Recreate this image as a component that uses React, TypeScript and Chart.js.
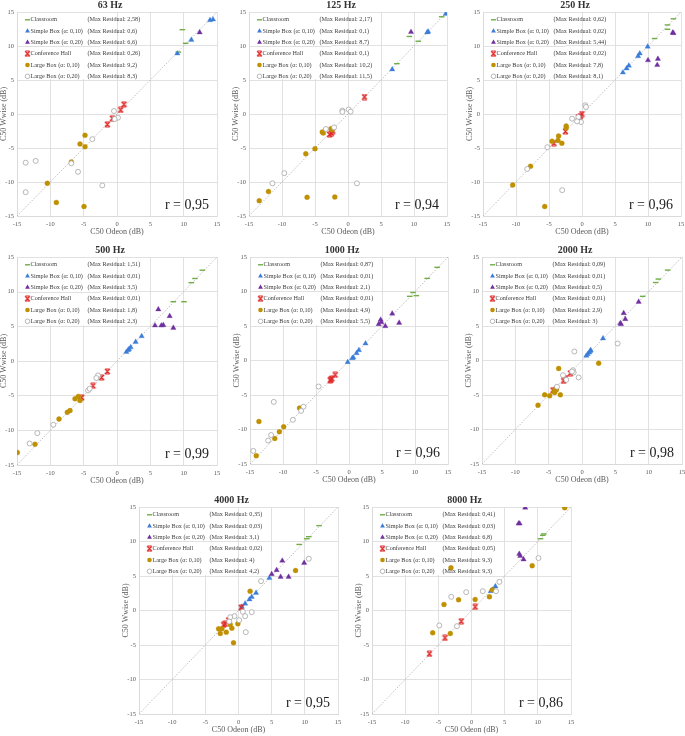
import React, { useEffect, useRef } from "react";
import { Chart, registerables } from "chart.js";

Chart.register(...registerables);

const FONT = "'Liberation Serif', 'Times New Roman', serif";

// ---------- DATA ----------
const frequencies = ["63 Hz", "125 Hz", "250 Hz", "500 Hz", "1000 Hz", "2000 Hz", "4000 Hz", "8000 Hz"];
const rValues = ["0,95", "0,94", "0,96", "0,99", "0,96", "0,98", "0,95", "0,86"];
const seriesNames = [
  "Classroom",
  "Simple Box (\u03b1: 0,10)",
  "Simple Box (\u03b1: 0,20)",
  "Conference Hall",
  "Large Box (\u03b1: 0,10)",
  "Large Box (\u03b1: 0,20)",
];
const axisMin = -15;
const axisMax = 15;
const tickStep = 5;

// Max residual labels per band (series order as seriesNames)
const maxResidual63 = ["2,58", "0,6", "6,6", "0,26", "9,2", "8,3"];
const maxResidual125 = ["2,17", "0,1", "8,7", "0,1", "10,2", "11,5"];
const maxResidual250 = ["0,62", "0,02", "5,44", "0,02", "7,8", "8,1"];
const maxResidual500 = ["1,51", "0,01", "3,5", "0,01", "1,8", "2,3"];
const maxResidual1000 = ["0,87", "0,01", "2,1", "0,01", "4,9", "5,5"];
const maxResidual2000 = ["0,09", "0,01", "0,5", "0,01", "2,9", "3"];
const maxResidual4000 = ["0,35", "0,03", "3,1", "0,02", "4", "4,2"];
const maxResidual8000 = ["0,41", "0,03", "6,8", "0,05", "9,3", "9,3"];

// [C50 Odeon, C50 Wwise]
const classroom63 = [[9.8, 12.4], [10.3, 10.4], [9.2, 9.1]];
const simpleBox10_63 = [[9.05, 8.9], [11.15, 10.9], [13.95, 13.8], [14.4, 13.9]];
const simpleBox20_63 = [[12.4, 12.0]];
const conference63 = [[1.05, 1.42], [0.55, 0.6], [-0.7, -0.64], [-1.45, -1.52]];
const largeBox10_63 = [[-4.8, -3.14], [-5.55, -4.4], [-4.8, -4.8], [-6.85, -7.06], [-10.45, -10.2], [-9.1, -13.0], [-4.95, -13.6]];
const largeBox20_63 = [[-0.45, 0.44], [0.15, -0.54], [-0.35, -0.74], [-3.7, -3.7], [-5.85, -8.5], [-6.85, -7.25], [-13.7, -7.16], [-12.2, -6.9], [-13.7, -11.5], [-2.2, -10.5]];

const classroom125 = [[14.2, 14.3], [9.3, 11.4], [10.65, 10.7], [7.4, 7.4]];
const simpleBox10_125 = [[14.8, 14.7], [12.15, 12.1], [12.0, 12.0], [6.7, 6.55]];
const simpleBox20_125 = [[9.55, 12.05]];
const conference125 = [[2.5, 2.5], [-2.8, -3.0], [-2.3, -2.5], [-2.5, -2.8]];
const largeBox10_125 = [[-2.6, -2.17], [-3.9, -2.66], [-3.75, -2.8], [-6.4, -5.86], [-5.0, -5.1], [-12.05, -11.4], [-13.45, -12.75], [-6.2, -12.25], [-2.0, -12.2], [-2.4, -2.3]];
const largeBox20_125 = [[-0.85, 0.5], [0.1, 0.65], [0.4, 0.35], [-3.35, -2.2], [-2.1, -1.97], [-9.65, -8.7], [-11.45, -10.2], [1.35, -10.2], [-0.85, 0.3]];

const classroom250 = [[13.85, 14.0], [12.95, 13.1], [12.95, 12.46], [11.0, 11.1]];
const simpleBox10_250 = [[9.95, 9.9], [8.75, 8.9], [8.5, 8.5], [7.1, 7.1], [6.75, 6.7], [6.2, 6.1]];
const simpleBox20_250 = [[13.75, 11.97], [13.85, 11.9], [10.0, 7.9], [11.5, 8.1], [11.4, 7.2]];
const conference250 = [[0, 0], [-0.25, -0.3], [-0.55, -0.45], [-2.5, -2.55], [-4.25, -4.3]];
const largeBox10_250 = [[-2.4, -1.77], [-2.4, -2.07], [-3.55, -3.25], [-3.65, -3.9], [-3.05, -4.3], [-4.55, -4.0], [-7.8, -7.7], [-10.5, -10.45], [-5.65, -13.6]];
const largeBox20_250 = [[0.5, 1.28], [0.6, 1.03], [-0.55, -0.45], [-0.15, -1.18], [-0.75, -1.08], [-1.5, -0.69], [-5.25, -4.88], [-8.3, -8.08], [-3.0, -11.2]];

const classroom500 = [[12.8, 13.1], [11.7, 11.9], [11.15, 11.3], [8.45, 8.55], [10.05, 8.55]];
const simpleBox10_500 = [[3.7, 3.57], [2.8, 2.75], [2.05, 1.98], [1.8, 1.7], [1.4, 1.3], [1.65, 1.55]];
const simpleBox20_500 = [[6.2, 7.44], [7.9, 6.47], [5.7, 5.12], [6.65, 5.12], [6.95, 5.17], [8.45, 4.78]];
const conference500 = [[-1.45, -1.5], [-2.3, -2.37], [-3.6, -3.57], [-5.3, -5.27]];
const largeBox10_500 = [[-5.8, -5.12], [-6.3, -5.46], [-5.55, -5.7], [-7.05, -7.15], [-7.45, -7.4], [-8.7, -8.36], [-12.3, -12.0], [-14.95, -13.2]];
const largeBox20_500 = [[-2.85, -2.08], [-3.1, -2.46], [-4.35, -4.25], [-4.1, -4.0], [-9.55, -9.2], [-11.95, -10.4], [-13.1, -11.9]];

const classroom1000 = [[13.35, 13.5], [11.85, 11.9], [9.7, 9.85], [9.2, 9.3], [10.2, 9.4]];
const simpleBox10_1000 = [[2.5, 2.46], [1.5, 1.5], [1.15, 1.06], [0.65, 0.43], [0.5, 0.34], [-0.2, -0.24]];
const simpleBox20_1000 = [[6.55, 6.8], [4.8, 5.9], [4.5, 5.27], [4.9, 5.56], [5.5, 4.98], [7.6, 5.46]];
const conference1000 = [[-2.1, -2.08], [-2.6, -2.6], [-2.75, -2.8], [-2.85, -2.85]];
const largeBox10_1000 = [[-7.5, -6.9], [-13.65, -8.84], [-9.9, -9.6], [-10.55, -10.33], [-11.25, -11.3], [-14.05, -13.8]];
const largeBox20_1000 = [[-4.6, -3.77], [-11.4, -6.0], [-6.9, -6.7], [-7.25, -7.3], [-8.5, -8.6], [-11.8, -10.8], [-12.25, -11.6], [-14.5, -13.1]];

const classroom2000 = [[12.85, 13.1], [11.45, 11.8], [11.05, 11.3], [9.1, 9.3]];
const simpleBox10_2000 = [[3.15, 3.2], [1.25, 1.4], [1.1, 1.16], [0.85, 0.92], [0.65, 0.68], [1.3, 1.5]];
const simpleBox20_2000 = [[8.5, 8.5], [6.25, 6.86], [6.5, 6.0], [5.75, 5.4], [5.85, 5.27]];
const conference2000 = [[-1.75, -1.84], [-2.5, -2.56], [-2.75, -2.95], [-4.35, -4.3]];
const largeBox10_2000 = [[2.5, -0.39], [-3.5, -1.16], [-4.0, -4.1], [-3.85, -4.25], [-4.15, -4.5], [-5.6, -4.98], [-4.85, -5.12], [-3.25, -4.98], [-6.6, -6.47], [-3.85, -4.06], [-4.1, -4.64]];
const largeBox20_2000 = [[5.35, 2.46], [-1.15, 1.3], [-1.35, -1.4], [-1.25, -1.74], [-2.85, -2.13], [-2.35, -2.8], [-0.5, -2.46], [-3.75, -3.8], [-1.5, -1.6]];

const classroom4000 = [[12.15, 12.3], [10.6, 10.7], [10.3, 10.4], [9.15, 9.57]];
const simpleBox10_4000 = [[4.65, 4.7], [2.65, 2.56], [2.0, 1.98], [1.65, 1.6], [1.0, 1.0], [0.5, 0.53]];
const simpleBox20_4000 = [[6.6, 7.2], [9.9, 6.9], [5.75, 5.85], [5.0, 5.27], [6.35, 4.88], [7.55, 4.88]];
const conference4000 = [[0.4, 0.43], [-1.5, -1.4], [-2.25, -2.08], [-2.0, -1.93]];
const largeBox10_4000 = [[8.6, 5.8], [1.75, 2.8], [-0.1, -1.93], [-1.25, -2.03], [-1.0, -2.56], [-3.0, -2.66], [-2.5, -2.66], [-2.75, -3.33], [-1.85, -3.14], [-0.75, -4.69]];
const largeBox20_4000 = [[10.6, 7.5], [3.4, 4.25], [0.65, -0.19], [2.0, -0.24], [1.0, -0.82], [-0.6, -0.82], [-1.25, -0.97], [0.1, -1.4], [-1.4, -1.6], [1.1, -3.14]];

const classroom8000 = [[10.9, 11.1], [10.4, 10.4], [10.75, 10.9]];
const simpleBox10_8000 = [[3.6, 3.5], [2.9, 2.8], [3.2, 3.0]];
const simpleBox20_8000 = [[8.1, 14.9], [7.1, 12.6], [7.25, 12.6], [7.2, 8.2], [7.35, 7.9], [7.85, 7.4]];
const conference8000 = [[0.55, 0.53], [-1.55, -1.55], [-4.0, -3.96], [-6.35, -6.28]];
const largeBox10_8000 = [[14.05, 14.9], [9.15, 6.5], [-3.1, 6.18], [-1.95, 1.55], [0.55, 1.6], [-4.15, 0.87], [2.7, 1.98], [3.15, 3.0], [-5.85, -3.24], [-3.2, -3.33]];
const largeBox20_8000 = [[10.1, 7.6], [4.2, 4.15], [3.7, 2.8], [1.7, 2.8], [-0.8, 2.66], [-3.05, 1.98], [-4.85, -2.17], [-2.2, -2.27]];

const panelSeries = [
  [classroom63, simpleBox10_63, simpleBox20_63, conference63, largeBox10_63, largeBox20_63],
  [classroom125, simpleBox10_125, simpleBox20_125, conference125, largeBox10_125, largeBox20_125],
  [classroom250, simpleBox10_250, simpleBox20_250, conference250, largeBox10_250, largeBox20_250],
  [classroom500, simpleBox10_500, simpleBox20_500, conference500, largeBox10_500, largeBox20_500],
  [classroom1000, simpleBox10_1000, simpleBox20_1000, conference1000, largeBox10_1000, largeBox20_1000],
  [classroom2000, simpleBox10_2000, simpleBox20_2000, conference2000, largeBox10_2000, largeBox20_2000],
  [classroom4000, simpleBox10_4000, simpleBox20_4000, conference4000, largeBox10_4000, largeBox20_4000],
  [classroom8000, simpleBox10_8000, simpleBox20_8000, conference8000, largeBox10_8000, largeBox20_8000],
];
const panelResiduals = [maxResidual63, maxResidual125, maxResidual250, maxResidual500, maxResidual1000, maxResidual2000, maxResidual4000, maxResidual8000];

// ---------- LAYOUT / STYLE ----------
// plot area rectangles on the page: [left, top, right, bottom]
const PLOT_RECTS = [
  [17, 12, 217, 216],
  [249, 12, 447, 216],
  [483, 12, 681, 216],
  [17, 257, 217, 465],
  [250, 257, 448, 464],
  [482, 257, 682, 464],
  [139, 507, 338, 714],
  [372, 507, 571, 714],
];
const PAD_L = 30, PAD_T = 14, PAD_R = 10, PAD_B = 26;

const GRID = "#D9D9D9";
const TEXT = "#595959";
const COLORS = ["#70AD47", "#3B7DD8", "#7030A0", "#E02828", "#BF9000", "#A6A6A6"];

function makeHourglass(color: string) {
  const c = document.createElement("canvas");
  c.width = 7;
  c.height = 7;
  const g = c.getContext("2d")!;
  g.strokeStyle = color;
  g.lineWidth = 1.2;
  g.beginPath();
  g.moveTo(1, 1); g.lineTo(6, 6);
  g.moveTo(6, 1); g.lineTo(1, 6);
  g.moveTo(1.3, 1); g.lineTo(5.7, 1);
  g.moveTo(1.3, 6); g.lineTo(5.7, 6);
  g.stroke();
  return c;
}

function drawMarker(ctx: CanvasRenderingContext2D, kind: number, x: number, y: number, hour: HTMLCanvasElement) {
  ctx.save();
  const col = COLORS[kind];
  if (kind === 0) {
    ctx.strokeStyle = col;
    ctx.lineWidth = 1.4;
    ctx.beginPath();
    ctx.moveTo(x - 2.5, y);
    ctx.lineTo(x + 2.5, y);
    ctx.stroke();
  } else if (kind === 1 || kind === 2) {
    const r = 2.8;
    ctx.fillStyle = col;
    ctx.beginPath();
    for (let i = 0; i < 3; i++) {
      const a = (i * 2 * Math.PI) / 3;
      const px = x + Math.sin(a) * r;
      const py = y - Math.cos(a) * r;
      if (i === 0) ctx.moveTo(px, py);
      else ctx.lineTo(px, py);
    }
    ctx.closePath();
    ctx.fill();
  } else if (kind === 3) {
    ctx.drawImage(hour, x - hour.width / 2, y - hour.height / 2);
  } else if (kind === 4) {
    ctx.fillStyle = col;
    ctx.beginPath();
    ctx.arc(x, y, 2.3, 0, Math.PI * 2);
    ctx.fill();
  } else {
    ctx.fillStyle = "#fff";
    ctx.strokeStyle = col;
    ctx.lineWidth = 0.8;
    ctx.beginPath();
    ctx.arc(x, y, 2.3, 0, Math.PI * 2);
    ctx.fill();
    ctx.stroke();
  }
  ctx.restore();
}

function decorPlugin(idx: number, hour: HTMLCanvasElement) {
  return {
    id: "decor" + idx,
    beforeDatasetsDraw(chart: any) {
      const { ctx, chartArea: a, scales } = chart;
      const xs = scales.x, ys = scales.y;
      const rx = xs.getPixelForValue(-2.5);
      const ry = ys.getPixelForValue(5);
      ctx.save();
      ctx.fillStyle = "#fff";
      ctx.fillRect(a.left + 1, a.top + 1, rx - a.left - 1, ry - a.top - 2);
      const y10 = Math.round(ys.getPixelForValue(10)) + 0.5;
      ctx.strokeStyle = GRID;
      ctx.lineWidth = 0.8;
      ctx.beginPath();
      ctx.moveTo(a.left, y10);
      ctx.lineTo(rx, y10);
      ctx.stroke();
      ctx.restore();
    },
    afterDraw(chart: any) {
      const { ctx, chartArea: a } = chart;
      ctx.save();
      // panel title
      ctx.fillStyle = "#333";
      ctx.font = `bold 10px ${FONT}`;
      ctx.textAlign = "center";
      ctx.textBaseline = "middle";
      ctx.fillText(frequencies[idx], (a.left + a.right) / 2 - 7, a.top - 7);
      // axis titles
      ctx.fillStyle = TEXT;
      ctx.font = `8px ${FONT}`;
      ctx.fillText("C50 Odeon (dB)", (a.left + a.right) / 2, a.bottom + 15.5);
      ctx.save();
      ctx.translate(a.left - 13.5, (a.top + a.bottom) / 2);
      ctx.rotate(-Math.PI / 2);
      ctx.fillText("C50 Wwise (dB)", 0, 0);
      ctx.restore();
      // legend
      ctx.font = `6.2px ${FONT}`;
      ctx.textAlign = "left";
      ctx.fillStyle = "#404040";
      const res = panelResiduals[idx];
      for (let i = 0; i < seriesNames.length; i++) {
        const yy = a.top + 7.8 + i * 11.3;
        drawMarker(ctx, i, a.left + 10.5, yy, hour);
        ctx.fillText(seriesNames[i], a.left + 13.5, yy);
        ctx.fillText(`(Max Residual: ${res[i]})`, a.left + 70.5, yy);
      }
      // r value
      ctx.fillStyle = "#222";
      ctx.font = `14px ${FONT}`;
      ctx.textAlign = "right";
      ctx.fillText(`r = ${rValues[idx]}`, a.right - 8, a.bottom - 11);
      ctx.restore();
    },
  };
}

function buildConfig(idx: number, hour: HTMLCanvasElement): any {
  const series = panelSeries[idx];
  const styles = [
    { pointStyle: "line", radius: 2.8, bg: COLORS[0], border: COLORS[0], bw: 1.4 },
    { pointStyle: "triangle", radius: 3.1, bg: COLORS[1], border: COLORS[1], bw: 0.3 },
    { pointStyle: "triangle", radius: 3.1, bg: COLORS[2], border: COLORS[2], bw: 0.3 },
    { pointStyle: hour, radius: 3.5, bg: COLORS[3], border: COLORS[3], bw: 1 },
    { pointStyle: "circle", radius: 2.5, bg: COLORS[4], border: COLORS[4], bw: 0.3 },
    { pointStyle: "circle", radius: 2.5, bg: "#FFFFFF", border: COLORS[5], bw: 0.8 },
  ];
  const datasets: any[] = series.map((pts, i) => ({
    label: seriesNames[i],
    data: pts.map(([x, y]) => ({ x, y })),
    pointStyle: styles[i].pointStyle,
    pointRadius: styles[i].radius,
    backgroundColor: styles[i].bg,
    borderColor: styles[i].border,
    borderWidth: styles[i].bw,
    showLine: false,
    order: 10 - i,
  }));
  datasets.push({
    label: "diag",
    data: [{ x: axisMin, y: axisMin }, { x: axisMax, y: axisMax }],
    showLine: true,
    pointRadius: 0,
    borderColor: "#B0B0B0",
    borderWidth: 0.8,
    borderDash: [1.5, 1.5],
    order: 100,
  });
  const axis = (isY: boolean) => ({
    type: "linear",
    min: axisMin,
    max: axisMax,
    afterFit: (s: any) => {
      if (isY) s.width = PAD_L;
      else s.height = PAD_B;
    },
    ticks: {
      stepSize: tickStep,
      autoSkip: false,
      maxRotation: 0,
      padding: isY ? 3 : 4,
      color: TEXT,
      font: { family: FONT, size: 6.5 },
    },
    grid: { color: GRID, lineWidth: 0.8, drawTicks: false },
    border: { display: true, color: GRID, width: 0.8 },
  });
  return {
    type: "scatter",
    data: { datasets },
    plugins: [decorPlugin(idx, hour)],
    options: {
      animation: false,
      responsive: false,
      devicePixelRatio: 1,
      events: [],
      layout: { padding: { left: 0, top: PAD_T, right: PAD_R, bottom: 0 } },
      plugins: { legend: { display: false }, tooltip: { enabled: false }, title: { display: false } },
      scales: { x: axis(false), y: axis(true) },
    },
  };
}

function Panel({ idx }: { idx: number }) {
  const ref = useRef<HTMLCanvasElement>(null);
  const [L, T, R, B] = PLOT_RECTS[idx];
  const w = R - L + PAD_L + PAD_R;
  const h = B - T + PAD_T + PAD_B;
  useEffect(() => {
    const hour = makeHourglass(COLORS[3]);
    const chart = new Chart(ref.current!, buildConfig(idx, hour));
    return () => chart.destroy();
  }, [idx]);
  return (
    <canvas
      ref={ref}
      width={w}
      height={h}
      style={{ position: "absolute", left: L - PAD_L, top: T - PAD_T, width: w, height: h }}
    />
  );
}

export default function App() {
  return (
    <div
      style={{
        position: "absolute",
        left: 0,
        top: 0,
        width: 685,
        height: 736,
        overflow: "hidden",
        background: "#fff",
      }}
    >
      {frequencies.map((_, i) => (
        <Panel key={i} idx={i} />
      ))}
    </div>
  );
}
